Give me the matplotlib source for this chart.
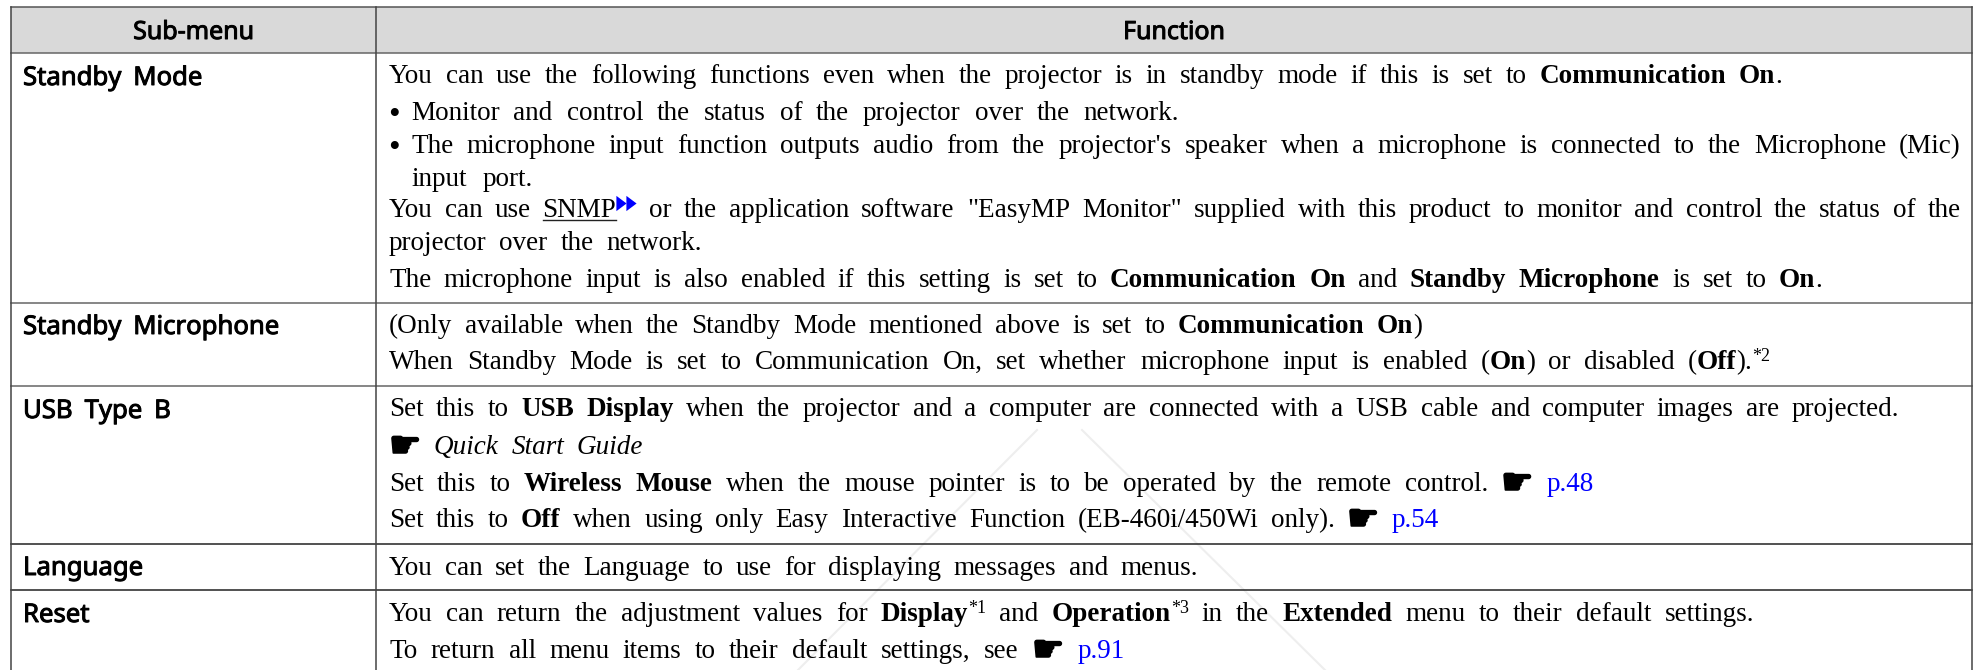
import re
import matplotlib
matplotlib.use("Agg")
import matplotlib.pyplot as plt
import matplotlib.patheffects as pe
from matplotlib.font_manager import FontProperties

# table text, **bold** //italic// ^super^ [link] ~underline~ @hand@ and >> for the blue arrows
headers = ["Sub-menu", "Function"]
sub_menus = ["Standby Mode", "Standby Microphone", "USB Type B", "Language", "Reset"]
function_lines = [
    "You can use the following functions even when the projector is in standby mode if this is set to **Communication On**.",
    "Monitor and control the status of the projector over the network.",
    "The microphone input function outputs audio from the projector's speaker when a microphone is connected to the Microphone (Mic)",
    "input port.",
    "You can use ~SNMP~>> or the application software \"EasyMP Monitor\" supplied with this product to monitor and control the status of the",
    "projector over the network.",
    "The microphone input is also enabled if this setting is set to **Communication On** and **Standby Microphone** is set to **On**.",
    "(Only available when the Standby Mode mentioned above is set to **Communication On**)",
    "When Standby Mode is set to Communication On, set whether microphone input is enabled (**On**) or disabled (**Off**).^*2^",
    "Set this to **USB Display** when the projector and a computer are connected with a USB cable and computer images are projected.",
    "@h@ //Quick Start Guide//",
    "Set this to **Wireless Mouse** when the mouse pointer is to be operated by the remote control. @h@ [p.48]",
    "Set this to **Off** when using only Easy Interactive Function (EB-460i/450Wi only). @h@ [p.54]",
    "You can set the Language to use for displaying messages and menus.",
    "You can return the adjustment values for **Display**^*1^ and **Operation**^*3^ in the **Extended** menu to their default settings.",
    "To return all menu items to their default settings, see @h@ [p.91]",
]

# layout, in reference pixels
line_x0 = [389, 411, 411, 411, 389, 389, 389, 389, 389, 389, 389, 389, 389, 389, 389, 389]
line_x1 = [1782, 1179, 1961, 533, 1961, 702, 1822, 1422, 1770, 1899, 643, 1594, 1439, 1198, 1754, 1125]
line_y = [83, 120, 153, 186, 217, 250, 287, 333, 369, 416, 454, 491, 527, 575, 621, 658]
bullet_lines = [1, 2]
label_y = [85, 334, 418, 575, 622]
rule_y = [53, 303, 386, 544, 590]
table_left, col_split, table_right, table_top = 11, 376, 1972, 7

fig = plt.figure(figsize=(19.8, 6.7), dpi=100)
ax = fig.add_axes([0, 0, 1, 1])
ax.set_xlim(0, 1980)
ax.set_ylim(670, 0)
ax.axis("off")
renderer = fig.canvas.get_renderer()

FS = 19.5
SUP_FS = 13
SERIF = "Liberation Serif"
ARROW = [(-2, -3), (2, 0), (-2, 3)]
thick = [pe.withStroke(linewidth=0.7, foreground="black")]
hand_thick = [pe.withStroke(linewidth=1.2, foreground="black")]


def get_font(style, size):
    if style["hand"]:
        return FontProperties(family="DejaVu Sans", size=26)
    return FontProperties(family=SERIF, size=size,
                          weight="bold" if style["bold"] else "normal",
                          style="italic" if style["italic"] else "normal")


def text_width(s, fp):
    return renderer.get_text_width_height_descent(s, fp, False)[0]


def parse_line(line):
    # split into words, each word a list of (text, style) pieces
    tokens = re.split(r"(\*\*|//|\^|\[|\]|~|@h@|>>| )", line)
    style = dict(bold=False, italic=False, sup=False, link=False, under=False, hand=False, arrows=False)
    words = [[]]
    for tok in tokens:
        if tok == "":
            continue
        if tok == "**":
            style["bold"] = not style["bold"]
        elif tok == "//":
            style["italic"] = not style["italic"]
        elif tok == "^":
            style["sup"] = not style["sup"]
        elif tok == "~":
            style["under"] = not style["under"]
        elif tok in "[]":
            style["link"] = tok == "["
        elif tok == " ":
            words.append([])
        elif tok == "@h@":
            words[-1].append(("\u261b", dict(style, hand=True)))
        elif tok == ">>":
            words[-1].append(("", dict(style, arrows=True)))
        else:
            words[-1].append((tok, dict(style)))
    return words


def piece_width(s, st):
    if st["arrows"]:
        return 21
    return text_width(s, get_font(st, SUP_FS if st["sup"] else FS))


def draw_line(line, x0, x1, y):
    words = parse_line(line)
    widths = [sum(piece_width(s, st) for s, st in w) for w in words]
    gap = (x1 - x0 - sum(widths)) / max(len(words) - 1, 1)
    x = x0
    for w, width in zip(words, widths):
        px = x
        for s, st in w:
            pw = piece_width(s, st)
            if st["arrows"]:
                ax.plot([px + 5, px + 15], [y - 14, y - 14], ls="none", marker=ARROW, ms=11, color="#0000ff", mew=0)
            elif st["hand"]:
                ax.text(px, y + 3, s, va="baseline", ha="left", fontproperties=get_font(st, FS),
                        color="black", path_effects=hand_thick)
            else:
                ax.text(px, y - (8 if st["sup"] else 0), s, va="baseline", ha="left",
                        fontproperties=get_font(st, SUP_FS if st["sup"] else FS),
                        color="#0000ff" if st["link"] else "black")
            if st["under"]:
                ax.plot([px, px + pw], [y + 3, y + 3], color="#222222", lw=1)
            px += pw
        x += width + gap


def draw_label(label, x, y):
    fp = FontProperties(family="Noto Sans", size=18.5)
    for word in label.split(" "):
        ax.text(x, y, word, va="baseline", ha="left", fontproperties=fp, color="black", path_effects=thick)
        x += text_width(word, fp) + 12


# header band and rules
ax.fill_between([table_left, table_right], table_top, rule_y[0], color="#d9d9d9", lw=0)
for i, y in enumerate(rule_y):
    ax.plot([table_left, table_right], [y, y], color="#666666" if i < 3 else "#222222", lw=1.1)
ax.plot([table_left, table_right], [table_top, table_top], color="#555555", lw=1.1)
ax.plot([table_left, table_left], [table_top, 670], color="#444444", lw=1.1)
ax.plot([col_split, col_split], [table_top, 670], color="#444444", lw=1.1)
ax.plot([table_right, table_right], [table_top, 670], color="#444444", lw=1.1)

# faint watermark strokes
ax.plot([1037, 798], [430, 670], color="#eeeeee", lw=1.5, zorder=0)
ax.plot([1082, 1325], [430, 670], color="#eeeeee", lw=1.5, zorder=0)

header_font = FontProperties(family="Noto Sans", size=18)
ax.text((table_left + col_split) / 2, 39, headers[0], ha="center", va="baseline", fontproperties=header_font, path_effects=thick)
ax.text((col_split + table_right) / 2, 39, headers[1], ha="center", va="baseline", fontproperties=header_font, path_effects=thick)

for label, y in zip(sub_menus, label_y):
    draw_label(label, 23, y)

for i, line in enumerate(function_lines):
    draw_line(line, line_x0[i], line_x1[i], line_y[i])
    if i in bullet_lines:
        ax.text(388, line_y[i] + 4, "\u2022", va="baseline", ha="left", fontproperties=FontProperties(family=SERIF, size=24))

fig.savefig("out.png", dpi=100)
